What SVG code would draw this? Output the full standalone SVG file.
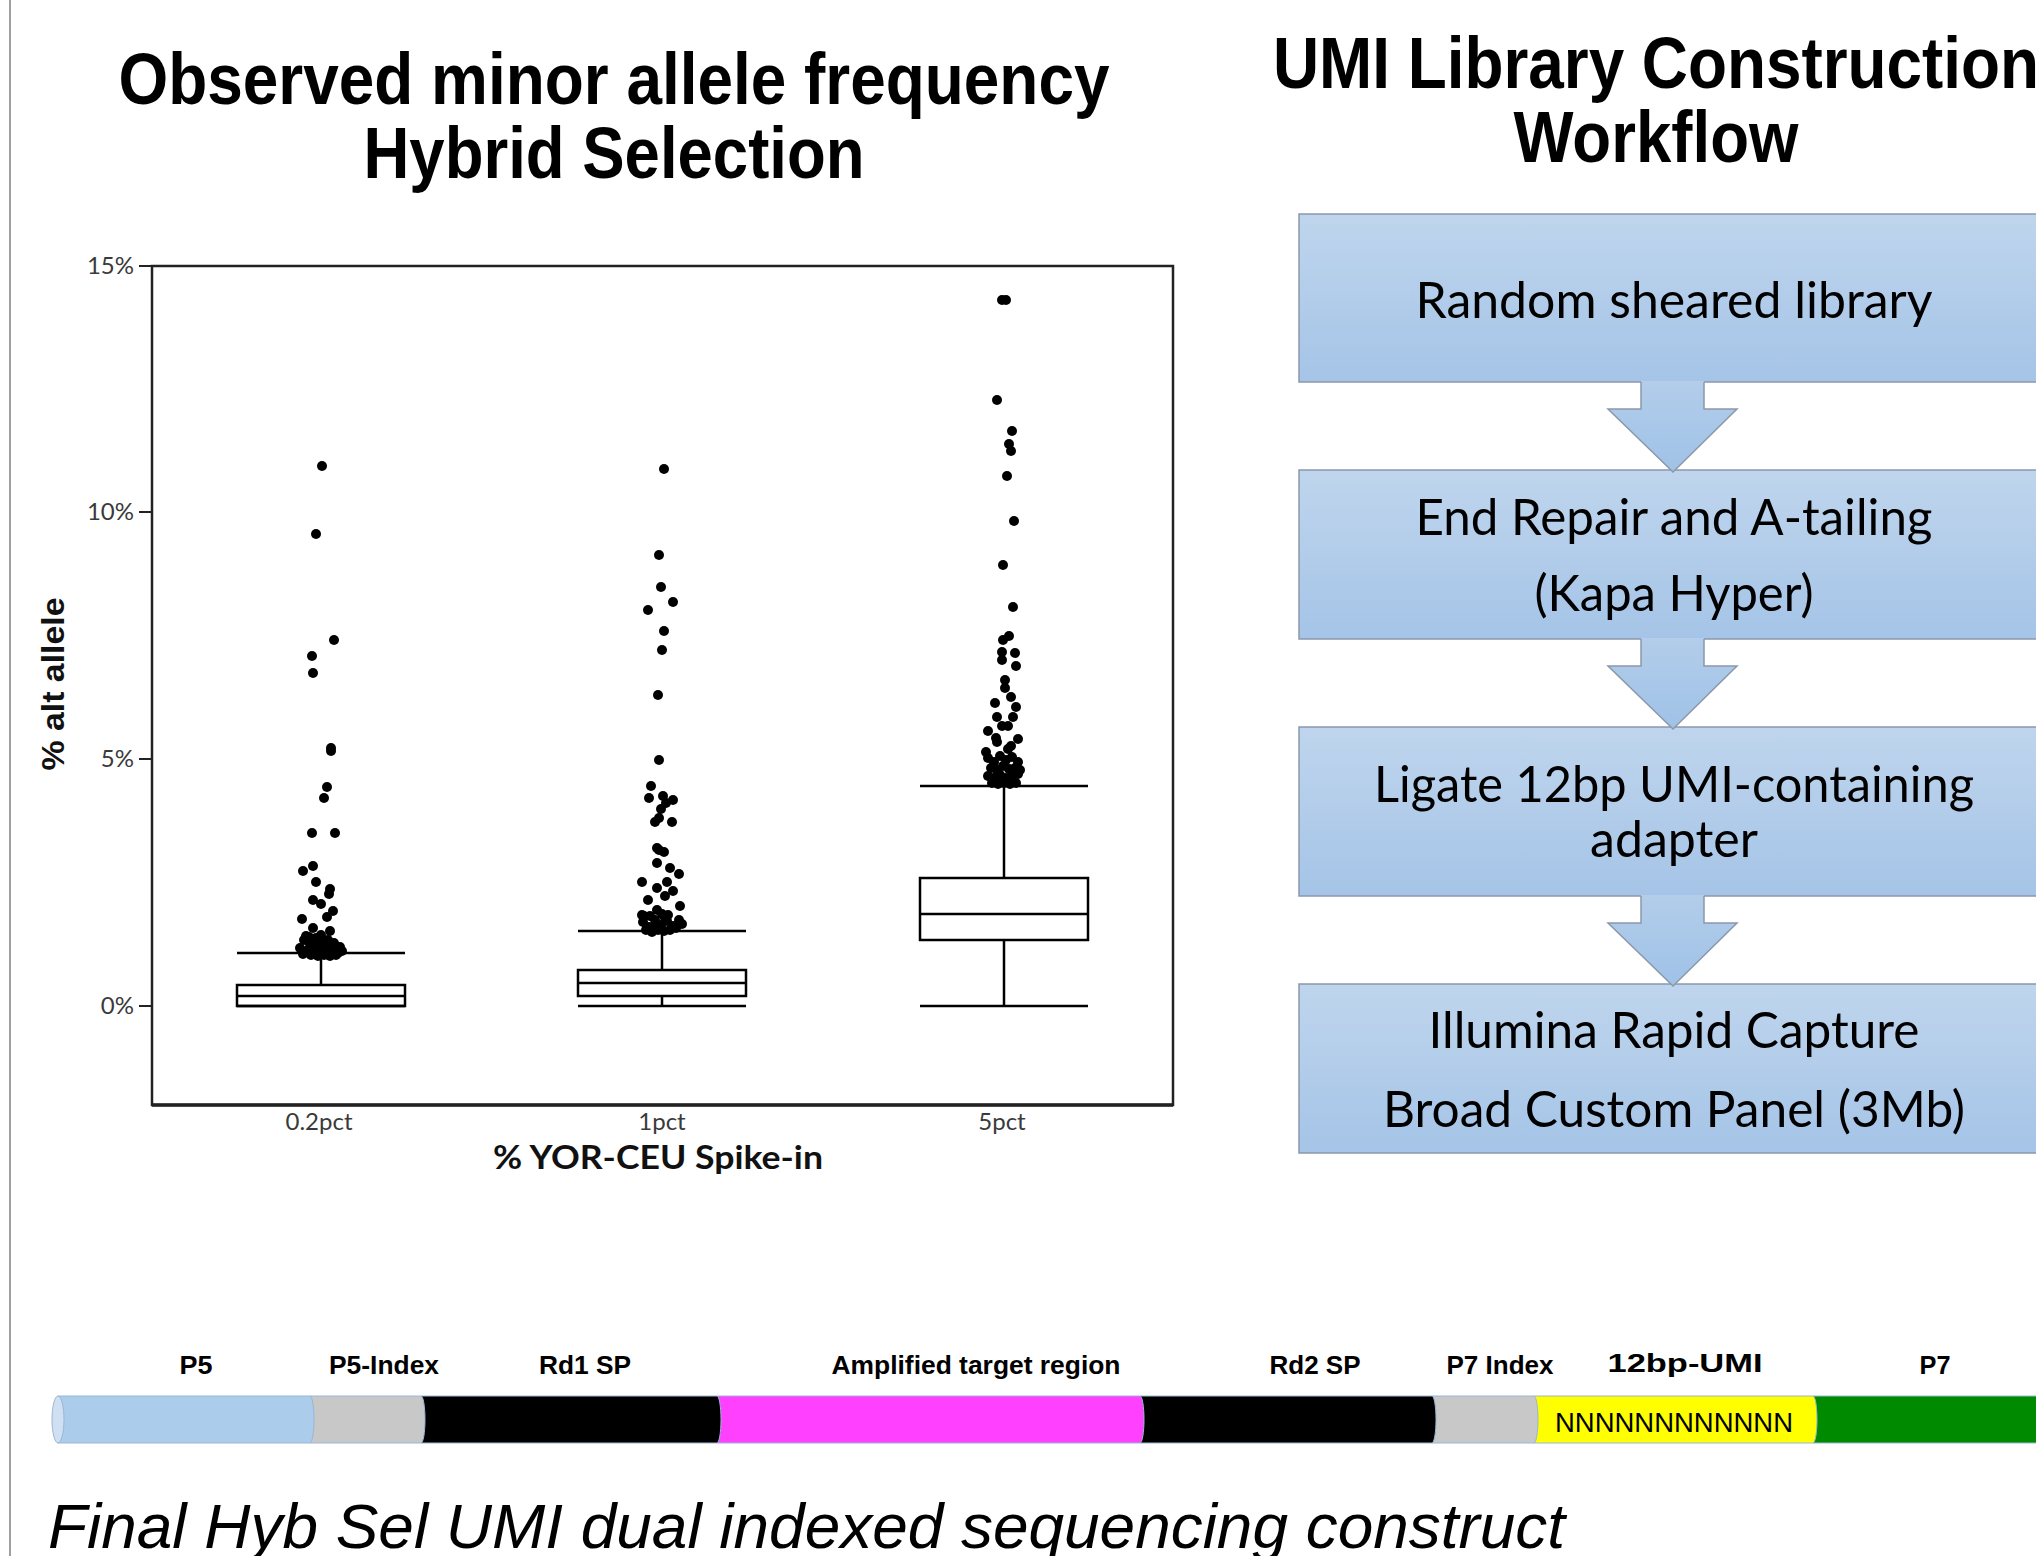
<svg xmlns="http://www.w3.org/2000/svg" width="2036" height="1556" viewBox="0 0 2036 1556">
<style>
.ttl{font-family:"Liberation Sans",Arial,sans-serif;font-weight:bold;font-size:72px;fill:#000;text-anchor:middle}
.bx{font-family:Lato,"Open Sans",sans-serif;font-size:50px;fill:#000;text-anchor:middle}
.box{fill:url(#bg);stroke:#8a98aa;stroke-width:1.5}
.arrf{fill:url(#ag);stroke:none}
.arrs{fill:none;stroke:#8a98aa;stroke-width:1.5}
.tick{font-family:Lato,"Open Sans",sans-serif;font-size:24px;fill:#3a3a3a}
.ax{stroke:#222;stroke-width:2.5;fill:none}
.bp{stroke:#000;stroke-width:2.5;fill:none}
.dots circle{fill:#000}
.lab{font-family:"Liberation Sans",Arial,sans-serif;font-weight:bold;font-size:26px;fill:#000;text-anchor:middle}
.seg{stroke:#9ab6d4;stroke-width:1}
</style>
<defs>
<linearGradient id="bg" x1="0" y1="0" x2="0" y2="1">
<stop offset="0" stop-color="#bfd5ed"/>
<stop offset="1" stop-color="#a5c4e7"/>
</linearGradient>
<linearGradient id="ag" x1="0" y1="0" x2="0" y2="1">
<stop offset="0" stop-color="#b3cdea"/>
<stop offset="1" stop-color="#9fc2e7"/>
</linearGradient>
</defs>
<rect width="2036" height="1556" fill="#fff"/>
<line x1="10" y1="0" x2="10" y2="1556" stroke="#a0a0a0" stroke-width="2"/>

<!-- Titles -->
<text class="ttl" x="614" y="104" textLength="991" lengthAdjust="spacingAndGlyphs">Observed minor allele frequency</text>
<text class="ttl" x="614" y="178" textLength="501" lengthAdjust="spacingAndGlyphs">Hybrid Selection</text>
<text class="ttl" x="1656" y="88" textLength="766" lengthAdjust="spacingAndGlyphs">UMI Library Construction</text>
<text class="ttl" x="1656" y="162" textLength="285" lengthAdjust="spacingAndGlyphs">Workflow</text>

<!-- Plot -->
<g id="plot">
<rect class="ax" x="152" y="266" width="1021" height="839"/>
<line x1="152" y1="1105" x2="1173" y2="1105" stroke="#222" stroke-width="3.5"/>
<g stroke="#222" stroke-width="2">
<line x1="139" y1="266" x2="152" y2="266"/>
<line x1="139" y1="512" x2="152" y2="512"/>
<line x1="139" y1="759" x2="152" y2="759"/>
<line x1="139" y1="1006" x2="152" y2="1006"/>
</g>
<g class="tick" text-anchor="end">
<text x="134" y="274">15%</text>
<text x="134" y="520">10%</text>
<text x="134" y="767">5%</text>
<text x="134" y="1014">0%</text>
</g>
<g class="tick" text-anchor="middle">
<text x="319" y="1130">0.2pct</text>
<text x="662" y="1130">1pct</text>
<text x="1002" y="1130">5pct</text>
</g>
<text x="658" y="1169" font-family="Lato,'Open Sans',sans-serif" font-weight="bold" font-size="33" fill="#111" text-anchor="middle" textLength="330" lengthAdjust="spacingAndGlyphs">% YOR-CEU Spike-in</text>
<text transform="translate(64,684) rotate(-90)" font-family="'Liberation Sans',Arial,sans-serif" font-weight="bold" font-size="32" fill="#111" text-anchor="middle" textLength="173" lengthAdjust="spacingAndGlyphs">% alt allele</text>

<!-- box plots -->
<g class="bp">
<line x1="237" y1="1006" x2="405" y2="1006"/>
<rect x="237" y="985" width="168" height="21"/>
<line x1="237" y1="996" x2="405" y2="996"/>
<line x1="321" y1="985" x2="321" y2="953"/>
<line x1="237" y1="953" x2="405" y2="953"/>

<line x1="578" y1="1006" x2="746" y2="1006"/>
<line x1="662" y1="1006" x2="662" y2="996"/>
<rect x="578" y="970" width="168" height="26"/>
<line x1="578" y1="983" x2="746" y2="983"/>
<line x1="662" y1="970" x2="662" y2="931"/>
<line x1="578" y1="931" x2="746" y2="931"/>

<line x1="920" y1="1006" x2="1088" y2="1006"/>
<line x1="1004" y1="1006" x2="1004" y2="940"/>
<rect x="920" y="878" width="168" height="62"/>
<line x1="920" y1="914" x2="1088" y2="914"/>
<line x1="1004" y1="878" x2="1004" y2="786"/>
<line x1="920" y1="786" x2="1088" y2="786"/>
</g>

<g class="dots">
<circle cx="322" cy="466" r="5"/><circle cx="316" cy="534" r="5"/><circle cx="334" cy="640" r="5"/>
<circle cx="312" cy="656" r="5"/><circle cx="313" cy="673" r="5"/><circle cx="331" cy="748" r="5"/>
<circle cx="331" cy="751" r="5"/><circle cx="327" cy="787" r="5"/><circle cx="324" cy="798" r="5"/>
<circle cx="312" cy="833" r="5"/><circle cx="335" cy="833" r="5"/><circle cx="313" cy="866" r="5"/>
<circle cx="303" cy="871" r="5"/><circle cx="316" cy="882" r="5"/><circle cx="330" cy="889" r="5"/>
<circle cx="329" cy="894" r="5"/><circle cx="313" cy="900" r="5"/><circle cx="321" cy="904" r="5"/>
<circle cx="333" cy="911" r="5"/><circle cx="302" cy="919" r="5"/><circle cx="327" cy="917" r="5"/>
<circle cx="313" cy="928" r="5"/><circle cx="330" cy="931" r="5"/><circle cx="306" cy="936" r="5"/>
<circle cx="321" cy="935" r="5"/>
<circle cx="304" cy="940" r="5"/><circle cx="310" cy="944" r="5"/><circle cx="316" cy="938" r="5"/>
<circle cx="322" cy="945" r="5"/><circle cx="328" cy="940" r="5"/><circle cx="334" cy="943" r="5"/>
<circle cx="340" cy="947" r="5"/><circle cx="300" cy="948" r="5"/><circle cx="308" cy="950" r="5"/>
<circle cx="314" cy="952" r="5"/><circle cx="320" cy="951" r="5"/><circle cx="326" cy="949" r="5"/>
<circle cx="332" cy="951" r="5"/><circle cx="338" cy="953" r="5"/><circle cx="303" cy="954" r="5"/>
<circle cx="311" cy="955" r="5"/><circle cx="318" cy="956" r="5"/><circle cx="324" cy="955" r="5"/>
<circle cx="330" cy="956" r="5"/><circle cx="336" cy="955" r="5"/><circle cx="342" cy="951" r="5"/>
<circle cx="315" cy="945" r="5"/><circle cx="327" cy="944" r="5"/><circle cx="319" cy="940" r="5"/>
<circle cx="309" cy="937" r="5"/>

<circle cx="664" cy="469" r="5"/><circle cx="659" cy="555" r="5"/><circle cx="661" cy="587" r="5"/>
<circle cx="673" cy="602" r="5"/><circle cx="648" cy="610" r="5"/><circle cx="664" cy="631" r="5"/>
<circle cx="662" cy="650" r="5"/><circle cx="658" cy="695" r="5"/><circle cx="659" cy="760" r="5"/>
<circle cx="651" cy="786" r="5"/><circle cx="649" cy="798" r="5"/><circle cx="663" cy="796" r="5"/>
<circle cx="673" cy="800" r="5"/><circle cx="666" cy="803" r="5"/><circle cx="661" cy="809" r="5"/>
<circle cx="655" cy="822" r="5"/><circle cx="672" cy="822" r="5"/><circle cx="659" cy="818" r="5"/>
<circle cx="657" cy="848" r="5"/><circle cx="664" cy="852" r="5"/><circle cx="659" cy="850" r="5"/>
<circle cx="657" cy="863" r="5"/><circle cx="670" cy="868" r="5"/><circle cx="679" cy="874" r="5"/>
<circle cx="642" cy="882" r="5"/><circle cx="667" cy="882" r="5"/><circle cx="657" cy="888" r="5"/>
<circle cx="673" cy="891" r="5"/><circle cx="665" cy="896" r="5"/><circle cx="648" cy="900" r="5"/>
<circle cx="680" cy="906" r="5"/><circle cx="642" cy="915" r="5"/><circle cx="657" cy="910" r="5"/>
<circle cx="665" cy="918" r="5"/>
<circle cx="643" cy="922" r="5"/><circle cx="649" cy="927" r="5"/><circle cx="655" cy="920" r="5"/>
<circle cx="661" cy="925" r="5"/><circle cx="667" cy="921" r="5"/><circle cx="673" cy="926" r="5"/>
<circle cx="679" cy="920" r="5"/><circle cx="646" cy="930" r="5"/><circle cx="652" cy="932" r="5"/>
<circle cx="658" cy="930" r="5"/><circle cx="664" cy="931" r="5"/><circle cx="670" cy="930" r="5"/>
<circle cx="676" cy="928" r="5"/><circle cx="682" cy="924" r="5"/><circle cx="650" cy="916" r="5"/>
<circle cx="662" cy="914" r="5"/><circle cx="668" cy="915" r="5"/><circle cx="656" cy="926" r="5"/>
<circle cx="644" cy="916" r="5"/>

<circle cx="1002" cy="300" r="5"/><circle cx="1006" cy="300" r="5"/><circle cx="997" cy="400" r="5"/>
<circle cx="1012" cy="431" r="5"/><circle cx="1009" cy="444" r="5"/><circle cx="1011" cy="451" r="5"/>
<circle cx="1007" cy="476" r="5"/><circle cx="1014" cy="521" r="5"/><circle cx="1003" cy="565" r="5"/>
<circle cx="1013" cy="607" r="5"/><circle cx="1009" cy="636" r="5"/><circle cx="1003" cy="640" r="5"/>
<circle cx="1002" cy="652" r="5"/><circle cx="1002" cy="660" r="5"/><circle cx="1015" cy="653" r="5"/>
<circle cx="1016" cy="666" r="5"/><circle cx="1005" cy="680" r="5"/><circle cx="1005" cy="688" r="5"/>
<circle cx="1011" cy="697" r="5"/><circle cx="995" cy="703" r="5"/><circle cx="1016" cy="707" r="5"/>
<circle cx="997" cy="717" r="5"/><circle cx="1013" cy="717" r="5"/><circle cx="1002" cy="726" r="5"/>
<circle cx="1008" cy="726" r="5"/><circle cx="988" cy="731" r="5"/><circle cx="996" cy="738" r="5"/>
<circle cx="997" cy="742" r="5"/><circle cx="1018" cy="739" r="5"/><circle cx="1011" cy="746" r="5"/>
<circle cx="1008" cy="749" r="5"/><circle cx="986" cy="752" r="5"/>
<circle cx="988" cy="758" r="5"/><circle cx="994" cy="762" r="5"/><circle cx="1000" cy="756" r="5"/>
<circle cx="1006" cy="760" r="5"/><circle cx="1012" cy="757" r="5"/><circle cx="1018" cy="762" r="5"/>
<circle cx="991" cy="768" r="5"/><circle cx="997" cy="770" r="5"/><circle cx="1003" cy="766" r="5"/>
<circle cx="1009" cy="769" r="5"/><circle cx="1015" cy="768" r="5"/><circle cx="988" cy="776" r="5"/>
<circle cx="994" cy="778" r="5"/><circle cx="1000" cy="775" r="5"/><circle cx="1006" cy="778" r="5"/>
<circle cx="1012" cy="776" r="5"/><circle cx="1018" cy="774" r="5"/><circle cx="992" cy="783" r="5"/>
<circle cx="998" cy="784" r="5"/><circle cx="1004" cy="783" r="5"/><circle cx="1010" cy="784" r="5"/>
<circle cx="1016" cy="783" r="5"/><circle cx="1020" cy="770" r="5"/>
</g>
</g>

<!-- Workflow nodes -->
<g id="step1"><rect class="box" x="1299" y="214" width="760" height="168"/>
<text class="bx" x="1674" y="318" textLength="517" lengthAdjust="spacingAndGlyphs">Random sheared library</text></g>
<g id="step2"><rect class="box" x="1299" y="470" width="760" height="169"/>
<text class="bx" x="1674" y="535" textLength="517" lengthAdjust="spacingAndGlyphs">End Repair and A-tailing</text>
<text class="bx" x="1674" y="611" textLength="279" lengthAdjust="spacingAndGlyphs">(Kapa Hyper)</text></g>
<g id="step3"><rect class="box" x="1299" y="727" width="760" height="169"/>
<text class="bx" x="1674" y="802" textLength="600" lengthAdjust="spacingAndGlyphs">Ligate 12bp UMI-containing</text>
<text class="bx" x="1674" y="857" textLength="168" lengthAdjust="spacingAndGlyphs">adapter</text></g>
<g id="step4"><rect class="box" x="1299" y="984" width="760" height="169"/>
<text class="bx" x="1674" y="1048" textLength="491" lengthAdjust="spacingAndGlyphs">Illumina Rapid Capture</text>
<text class="bx" x="1674" y="1127" textLength="582" lengthAdjust="spacingAndGlyphs">Broad Custom Panel (3Mb)</text></g>

<g id="connectors">
<path class="arrf" d="M1641,381 L1704,381 L1704,409 L1737,409 L1673,472 L1608,409 L1641,409 Z"/>
<path class="arrs" d="M1641,382 L1641,409 L1608,409 L1673,472 L1737,409 L1704,409 L1704,382"/>
<path class="arrf" d="M1641,638 L1704,638 L1704,666 L1737,666 L1673,729 L1608,666 L1641,666 Z"/>
<path class="arrs" d="M1641,639 L1641,666 L1608,666 L1673,729 L1737,666 L1704,666 L1704,639"/>
<path class="arrf" d="M1641,895 L1704,895 L1704,923 L1737,923 L1673,986 L1608,923 L1641,923 Z"/>
<path class="arrs" d="M1641,896 L1641,923 L1608,923 L1673,986 L1737,923 L1704,923 L1704,896"/>
</g>

<!-- Construct -->
<g id="construct">
<path class="seg" fill="#008a00" d="M1813,1396 L2050,1396 L2050,1443 L1813,1443 Z"/>
<path class="seg" fill="#ffff00" d="M1534,1396 L1813,1396 A4,23.5 0 0 1 1813,1443 L1534,1443 Z"/>
<path class="seg" fill="#c8c8c8" d="M1432,1396 L1534,1396 A4,23.5 0 0 1 1534,1443 L1432,1443 Z"/>
<path class="seg" fill="#000" d="M1140,1396 L1432,1396 A4,23.5 0 0 1 1432,1443 L1140,1443 Z"/>
<path class="seg" fill="#ff40ff" d="M717,1396 L1140,1396 A4,23.5 0 0 1 1140,1443 L717,1443 Z"/>
<path class="seg" fill="#000" d="M421,1396 L717,1396 A4,23.5 0 0 1 717,1443 L421,1443 Z"/>
<path class="seg" fill="#c8c8c8" d="M310,1396 L421,1396 A4,23.5 0 0 1 421,1443 L310,1443 Z"/>
<path class="seg" fill="#abcdeb" d="M58,1396 L310,1396 A4,23.5 0 0 1 310,1443 L58,1443 Z"/>
<ellipse cx="58" cy="1419.5" rx="6" ry="23.5" fill="#cfe0f3" stroke="#9ab6d4" stroke-width="1"/>
<text x="1674" y="1432" font-family="'Liberation Sans',Arial,sans-serif" font-size="27" fill="#000" text-anchor="middle" textLength="238" lengthAdjust="spacingAndGlyphs">NNNNNNNNNNNN</text>
<text class="lab" x="196" y="1374" textLength="33" lengthAdjust="spacingAndGlyphs">P5</text>
<text class="lab" x="384" y="1374" textLength="110" lengthAdjust="spacingAndGlyphs">P5-Index</text>
<text class="lab" x="585" y="1374" textLength="92" lengthAdjust="spacingAndGlyphs">Rd1 SP</text>
<text class="lab" x="976" y="1374" textLength="289" lengthAdjust="spacingAndGlyphs">Amplified target region</text>
<text class="lab" x="1315" y="1374" textLength="91" lengthAdjust="spacingAndGlyphs">Rd2 SP</text>
<text class="lab" x="1500" y="1374" textLength="107" lengthAdjust="spacingAndGlyphs">P7 Index</text>
<text class="lab" x="1685" y="1372" font-size="36" textLength="155" lengthAdjust="spacingAndGlyphs">12bp-UMI</text>
<text class="lab" x="1935" y="1374" textLength="31" lengthAdjust="spacingAndGlyphs">P7</text>
</g>
<text x="48" y="1548" font-family="'Liberation Sans',Arial,sans-serif" font-style="italic" font-size="63" fill="#000" textLength="1517" lengthAdjust="spacingAndGlyphs">Final Hyb Sel UMI dual indexed sequencing construct</text>
</svg>
